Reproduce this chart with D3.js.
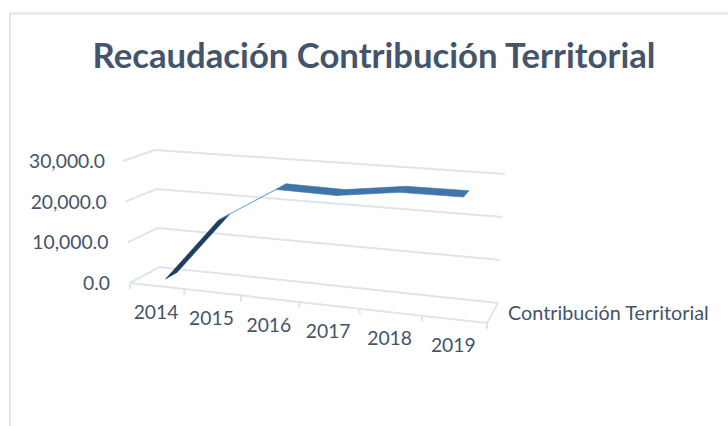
<!DOCTYPE html>
<html>
<head>
<meta charset="utf-8">
<script src="https://cdn.jsdelivr.net/npm/d3@7"></script>
<style>
  html, body { margin: 0; padding: 0; background: #fff; }
  text { font-family: Lato, sans-serif; fill: #44546a; }
</style>
</head>
<body>
<svg id="chart" width="728" height="426"></svg>
<script>
const years = ["2014", "2015", "2016", "2017", "2018", "2019"];
const seriesName = "Contribución Territorial";
const recaudacion = [500, 16300, 24800, 24500, 26400, 26500];
const valueTicks = [0, 10000, 20000, 30000];
const segmentColors = ["#1f3f60", "#5b9bd5", "#3f75a8", "#3f75a8", "#3f75a8"];

const svg = d3.select("#chart");
const gridColor = "#dfe5ec";

// Corners of the floor as they land on the picture
const floor = { fl: [130, 283], fr: [487, 323], bl: [159, 267], br: [498, 303] };
// How far the same corners move when the value goes to the top of the axis
const rise = { fl: [-7, -122], fr: [7, -134], bl: [-4, -117], br: [7, -129] };

// Homography from the unit square, to get the perspective along the axis
function homography(c) {
  const [x0, y0] = c.fl, [x1, y1] = c.fr, [x2, y2] = c.br, [x3, y3] = c.bl;
  const dx1 = x1 - x2, dx2 = x3 - x2, sx = x0 - x1 + x2 - x3;
  const dy1 = y1 - y2, dy2 = y3 - y2, sy = y0 - y1 + y2 - y3;
  const det = dx1 * dy2 - dx2 * dy1;
  const g = (sx * dy2 - dx2 * sy) / det;
  const h = (dx1 * sy - sx * dy1) / det;
  const a = x1 - x0 + g * x1, b = x3 - x0 + h * x3;
  const d = y1 - y0 + g * y1, e = y3 - y0 + h * y3;
  return (u, v) => {
    const w = g * u + h * v + 1;
    return [(a * u + b * v + x0) / w, (d * u + e * v + y0) / w];
  };
}
const floorAt = homography(floor);

const xScale = d3.scaleBand().domain(years).range([0, 1]);
const yScale = d3.scaleLinear().domain([0, 30000]).range([0, 1]);

// u along the categories, d into the depth, value up the wall
function project(u, d, value) {
  const p = floorAt(u, d), k = yScale(value);
  const offset = [0, 1].map(i =>
    (1 - d) * ((1 - u) * rise.fl[i] + u * rise.fr[i]) +
    d * ((1 - u) * rise.bl[i] + u * rise.br[i]));
  return [p[0] + offset[0] * k, p[1] + offset[1] * k];
}
const line = d3.line();

// Gridlines on the side and back walls
valueTicks.forEach(v => {
  svg.append("path")
    .attr("d", line([project(0, 0, v), project(0, 1, v), project(1, 1, v)]))
    .attr("fill", "none").attr("stroke", gridColor).attr("stroke-width", 2);
});

// Floor edges and category ticks
svg.append("path")
  .attr("d", line([project(0, 0, 0), project(1, 0, 0), project(1, 1, 0)]))
  .attr("fill", "none").attr("stroke", gridColor).attr("stroke-width", 2);

d3.range(years.length + 1).forEach(i => {
  const p = project(i / years.length, 0, 0);
  svg.append("line")
    .attr("x1", p[0]).attr("y1", p[1] - 1)
    .attr("x2", p[0]).attr("y2", p[1] + 6)
    .attr("stroke", gridColor).attr("stroke-width", 2);
});

// Ribbon, one quad per segment
const depthFront = 0.3, depthBack = 0.72;
d3.range(years.length - 1).forEach(i => {
  const u0 = xScale(years[i]) + xScale.bandwidth() / 2;
  const u1 = xScale(years[i + 1]) + xScale.bandwidth() / 2;
  svg.append("path")
    .attr("d", line([
      project(u0, depthFront, recaudacion[i]),
      project(u1, depthFront, recaudacion[i + 1]),
      project(u1, depthBack, recaudacion[i + 1]),
      project(u0, depthBack, recaudacion[i])
    ]) + "Z")
    .attr("fill", segmentColors[i])
    .attr("stroke", segmentColors[i]).attr("stroke-width", 0.6);
});

// Value labels
const valueFormat = d3.format(",.1f");
valueTicks.forEach(v => {
  const p = project(0, 0, v);
  svg.append("text")
    .attr("x", p[0] - 20 + 2 * yScale(v)).attr("y", p[1] + 7)
    .attr("text-anchor", "end")
    .attr("font-size", 19.3)
    .text(valueFormat(v));
});

// Year labels
years.forEach(y => {
  const p = project(xScale(y) + xScale.bandwidth() / 2, 0, 0);
  svg.append("text")
    .attr("x", p[0] - 1).attr("y", p[1] + 33)
    .attr("text-anchor", "middle")
    .attr("font-size", 19.3)
    .text(y);
});

// Series label on the depth axis
svg.append("text")
  .attr("x", 508).attr("y", 320)
  .attr("font-size", 19.8)
  .text(seriesName);

// Title
svg.append("text")
  .attr("x", 374).attr("y", 68)
  .attr("text-anchor", "middle")
  .attr("font-size", 34.7)
  .attr("font-weight", 700)
  .text("Recaudación Contribución Territorial");

// Chart frame
svg.append("path")
  .attr("d", "M10,426V13.5H728")
  .attr("fill", "none").attr("stroke", gridColor).attr("stroke-width", 2);
</script>
</body>
</html>
